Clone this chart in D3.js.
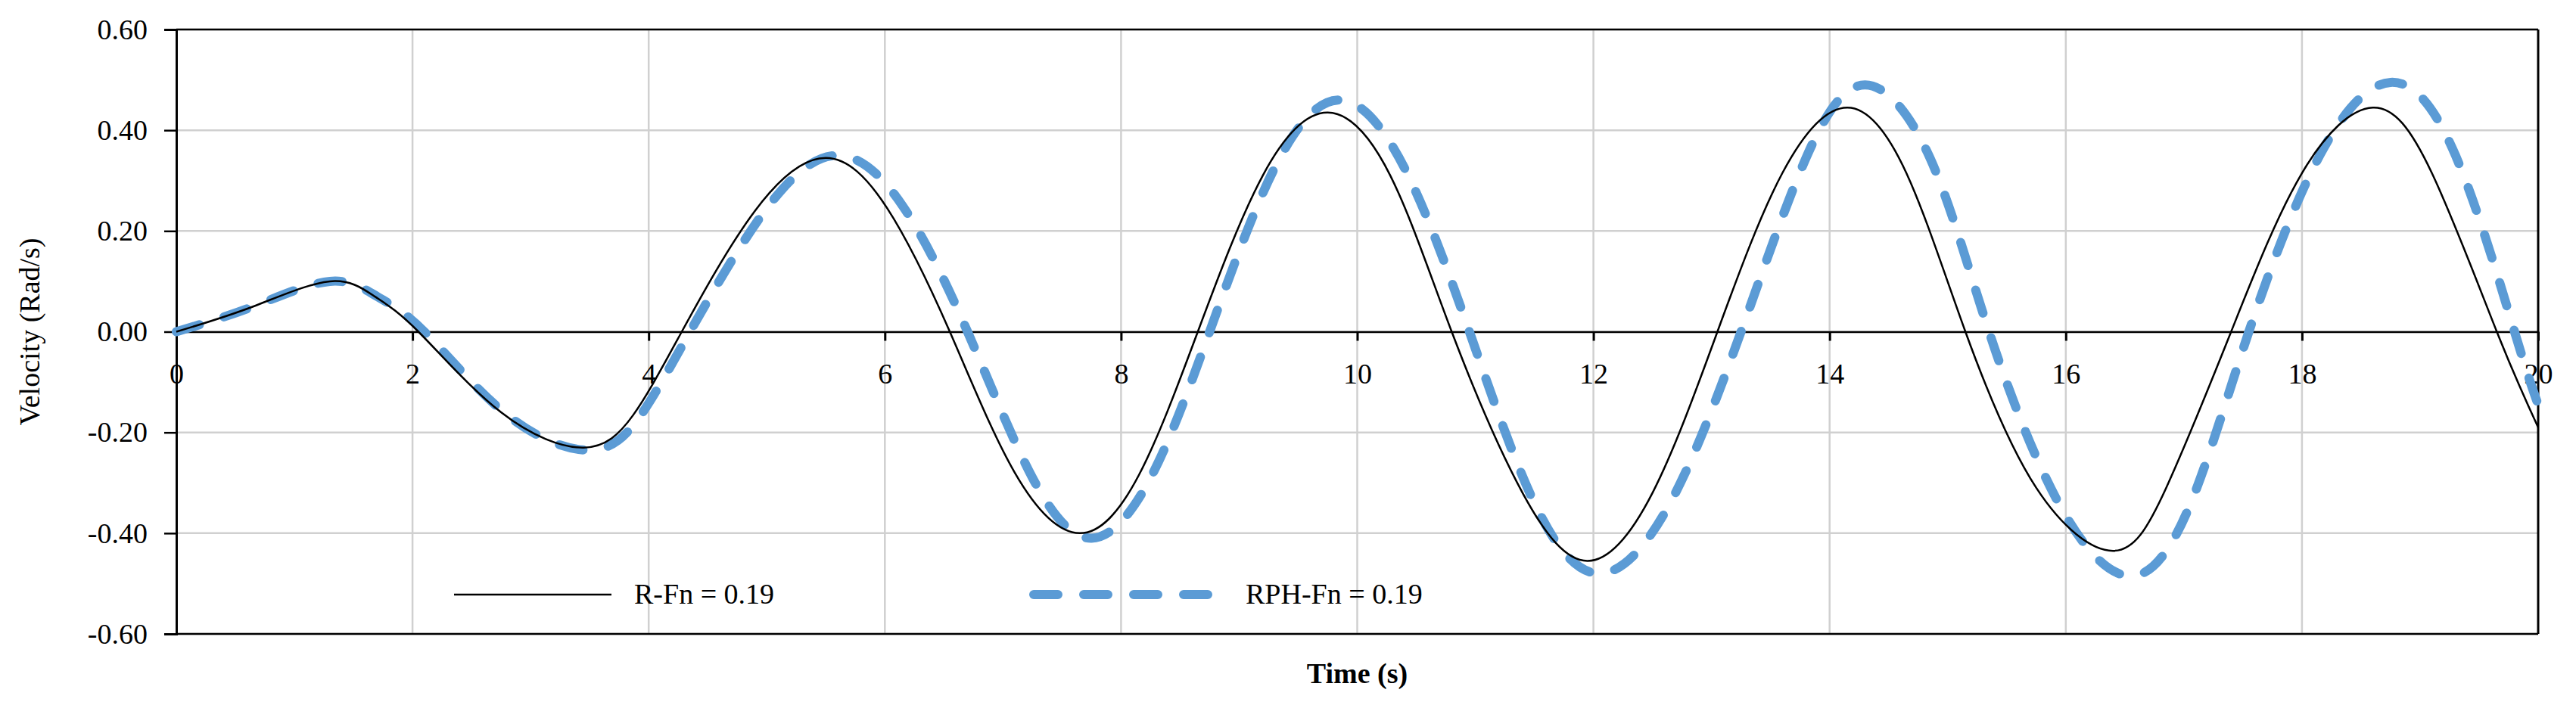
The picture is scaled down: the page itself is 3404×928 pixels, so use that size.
<!DOCTYPE html><html><head><meta charset="utf-8">
<script src="https://cdn.jsdelivr.net/npm/d3@7"></script>
<style>body{margin:0;background:#fff}text{font-family:"Liberation Serif","Times New Roman",serif;fill:#000}</style></head>
<body><svg id="c" width="3404" height="928"></svg>
<script>
const xTicks=[0,2,4,6,8,10,12,14,16,18,20];
const yTicks=[-0.6,-0.4,-0.2,0,0.2,0.4,0.6];
const rTime=[0,0.65,1.3,1.68,2.05,2.75,3.45,3.87,4.28,4.9,5.5,6.02,6.55,7.1,7.65,8.15,8.65,9.2,9.75,10.28,10.8,11.4,11.95,12.5,13.05,13.6,14.15,14.65,15.15,15.75,16.4,16.85,17.4,18.0,18.6,19.1,19.65,20];
const rVel=[0,0.05,0.10,0.07,0,-0.16,-0.23,-0.165,0,0.24,0.345,0.245,0,-0.28,-0.40,-0.285,0,0.31,0.435,0.31,0,-0.32,-0.455,-0.32,0,0.315,0.445,0.315,0,-0.31,-0.435,-0.31,0,0.315,0.445,0.315,0,-0.19];
const rphTime=[0,0.65,1.3,1.7,2.1,2.8,3.5,3.92,4.35,5.0,5.6,6.15,6.7,7.25,7.75,8.25,8.75,9.3,9.85,10.4,10.95,11.5,12.05,12.65,13.25,13.8,14.3,14.85,15.35,15.95,16.55,17.05,17.55,18.15,18.75,19.3,19.8,20];
const rphVel=[0,0.05,0.10,0.07,0,-0.165,-0.235,-0.17,0,0.245,0.35,0.25,0,-0.29,-0.41,-0.29,0,0.325,0.46,0.325,0,-0.34,-0.48,-0.34,0,0.345,0.49,0.345,0,-0.345,-0.485,-0.345,0,0.35,0.495,0.35,0,-0.145];
const names=["R-Fn = 0.19","RPH-Fn = 0.19"];

const svg=d3.select("#c");
const L=233,R=3354,T=39,B=838;
const x=d3.scaleLinear().domain([0,20]).range([L,R]);
const y=d3.scaleLinear().domain([-0.6,0.6]).range([B,T]);
const g=svg.append("g");
g.selectAll(".hg").data(yTicks).join("line").attr("x1",L).attr("x2",R).attr("y1",d=>y(d)).attr("y2",d=>y(d)).attr("stroke","#d0d0d0").attr("stroke-width",2.5);
g.selectAll(".vg").data(xTicks.slice(1,-1)).join("line").attr("y1",T).attr("y2",B).attr("x1",d=>x(d)).attr("x2",d=>x(d)).attr("stroke","#d0d0d0").attr("stroke-width",2.5);
g.append("line").attr("x1",L).attr("x2",R).attr("y1",T).attr("y2",T).attr("stroke","#000").attr("stroke-width",2.5);
g.append("line").attr("x1",L).attr("x2",R).attr("y1",B).attr("y2",B).attr("stroke","#000").attr("stroke-width",2.5);
g.append("line").attr("x1",R).attr("x2",R).attr("y1",T).attr("y2",B).attr("stroke","#000").attr("stroke-width",3);
const fmtY=d=>d3.format(".2f")(d).replace("−","-");
const ya=svg.append("g").attr("transform",`translate(${L},0)`).call(d3.axisLeft(y).tickValues(yTicks).tickFormat(fmtY).tickSize(16).tickPadding(22));
ya.select(".domain").attr("stroke-width",3);
ya.selectAll(".tick line").attr("stroke-width",2.5);
ya.selectAll("text").style("font-size","38px").style("font-family","Liberation Serif");
const xa=svg.append("g").attr("transform",`translate(0,${y(0)})`).call(d3.axisBottom(x).tickValues(xTicks).tickFormat(d3.format("d")).tickSize(12).tickSizeOuter(0).tickPadding(30));
xa.select(".domain").attr("stroke-width",2.5);
xa.selectAll(".tick line").attr("stroke-width",3);
xa.selectAll("text").style("font-size","38px").style("font-family","Liberation Serif");
const line=d3.line().x(d=>x(d[0])).y(d=>y(d[1])).curve(d3.curveNatural);
svg.append("path").datum(rphTime.map((t,i)=>[t,rphVel[i]])).attr("d",line).attr("fill","none").attr("stroke","#5B9BD5").attr("stroke-width",12).attr("stroke-linecap","round").attr("stroke-dasharray","32,34");
svg.append("path").datum(rTime.map((t,i)=>[t,rVel[i]])).attr("d",line).attr("fill","none").attr("stroke","#000").attr("stroke-width",2.5);
svg.append("text").attr("transform",`translate(52,${(T+B)/2}) rotate(-90)`).attr("text-anchor","middle").style("font-size","38px").text("Velocity (Rad/s)");
svg.append("text").attr("x",(L+R)/2).attr("y",903).attr("text-anchor","middle").style("font-size","38px").style("font-weight","bold").text("Time (s)");
const ly=786;
svg.append("line").attr("x1",600).attr("x2",808).attr("y1",ly).attr("y2",ly).attr("stroke","#000").attr("stroke-width",2.5);
svg.append("text").attr("x",838).attr("y",ly+12).style("font-size","38px").text(names[0]);
svg.append("line").attr("x1",1366).attr("x2",1612).attr("y1",ly).attr("y2",ly).attr("stroke","#5B9BD5").attr("stroke-width",12).attr("stroke-linecap","round").attr("stroke-dasharray","32,34");
svg.append("text").attr("x",1646).attr("y",ly+12).style("font-size","38px").text(names[1]);
</script></body></html>
